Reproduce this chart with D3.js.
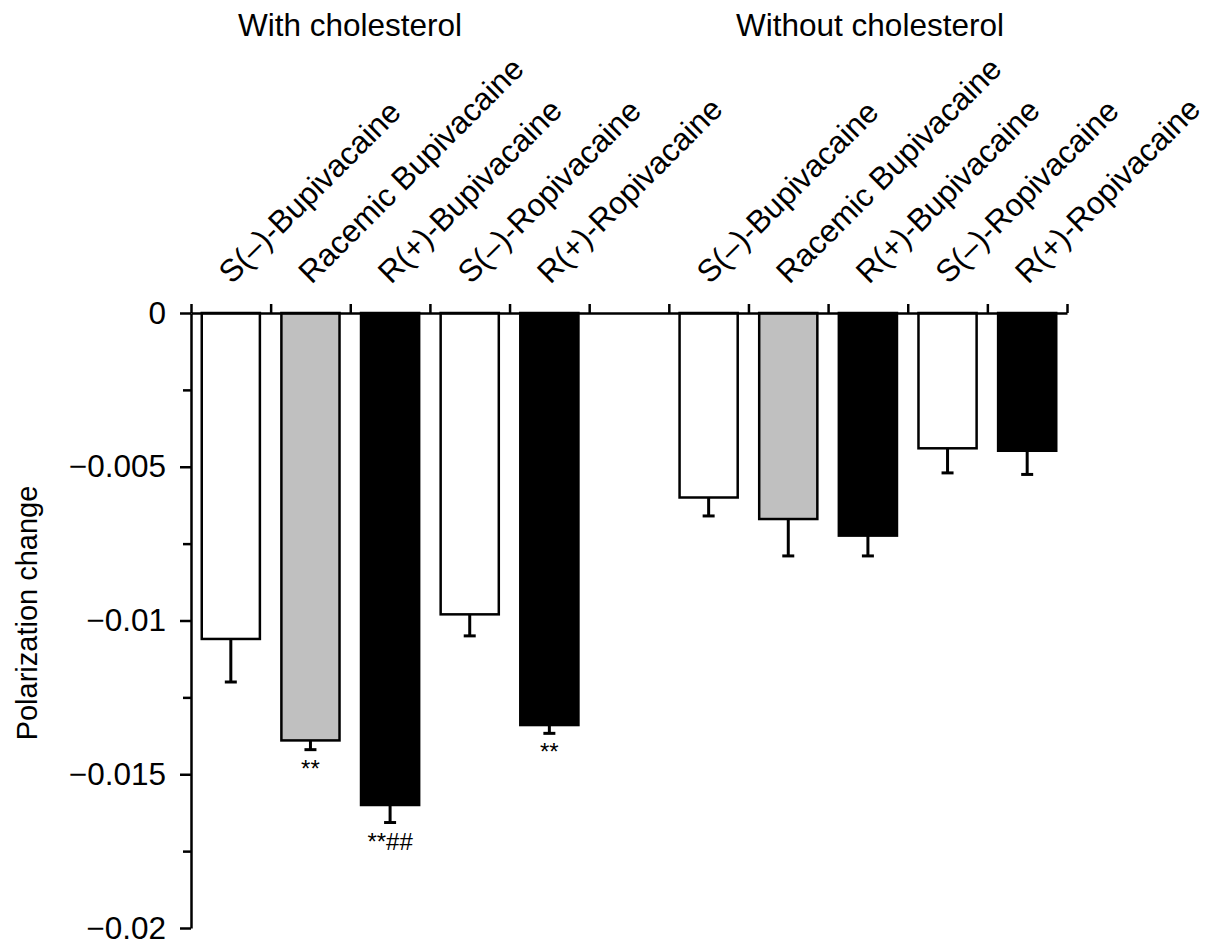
<!DOCTYPE html>
<html>
<head>
<meta charset="utf-8">
<script src="https://cdn.jsdelivr.net/npm/d3@7"></script>
<style>
  html, body { margin: 0; padding: 0; background: #fff; }
  svg text { font-family: "Liberation Sans", Arial, Helvetica, sans-serif; fill: #000; }
</style>
</head>
<body>
<svg id="chart" width="1216" height="939"></svg>
<script>
// ---- data ----
const groups = ["With cholesterol", "Without cholesterol"];
const categories = ["S(\u2013)-Bupivacaine", "Racemic Bupivacaine", "R(+)-Bupivacaine", "S(\u2013)-Ropivacaine", "R(+)-Ropivacaine"];
const withChol = [-0.0106, -0.0139, -0.0160, -0.0098, -0.0134];
const withCholErr = [0.0014, 0.0003, 0.00057, 0.0007, 0.00027];
const withoutChol = [-0.0060, -0.0067, -0.00724, -0.0044, -0.00448];
const withoutCholErr = [0.0006, 0.0012, 0.00066, 0.0008, 0.00077];
const withCholNotes = ["", "**", "**##", "", "**"];
const withoutCholNotes = ["", "", "", "", ""];
const yTickValues = [0, -0.005, -0.01, -0.015, -0.02];
const yTickLabels = ["0", "\u22120.005", "\u22120.01", "\u22120.015", "\u22120.02"];
const yMinorTicks = [-0.0025, -0.0075, -0.0125, -0.0175];
const yTitle = "Polarization change";

// ---- styles ----
const fills = ["#ffffff", "#c0c0c0", "#000000", "#ffffff", "#000000"];
const FONT = 31.5;

(function draw() {
// ---- build rows (11 slots: 5 bars, gap, 5 bars) ----
const rows = [];
categories.forEach((c, i) => rows.push({key: "w" + i, label: c, value: withChol[i], err: withCholErr[i], note: withCholNotes[i], fill: fills[i]}));
rows.push({key: "gap", label: "", value: null});
categories.forEach((c, i) => rows.push({key: "o" + i, label: c, value: withoutChol[i], err: withoutCholErr[i], note: withoutCholNotes[i], fill: fills[i]}));

const svg = d3.select("#chart");
const mLeft = 191, mRight = 1067, mTop = 313, mBottom = 928;

const x = d3.scaleBand().domain(rows.map(r => r.key)).range([mLeft, mRight]).paddingInner(0.27).paddingOuter(0.135);
const xEdge = d3.scaleLinear().domain([0, rows.length]).range([mLeft, mRight]);
const y = d3.scaleLinear().domain([-0.02, 0]).range([mBottom, mTop]);

const bars = rows.filter(r => r.value !== null);

// bars
svg.append("g").selectAll("rect").data(bars).join("rect")
  .attr("x", d => x(d.key))
  .attr("y", y(0))
  .attr("width", x.bandwidth())
  .attr("height", d => y(d.value) - y(0))
  .attr("fill", d => d.fill)
  .attr("stroke", "#000")
  .attr("stroke-width", 2.5);

// error bars (downward only)
const eg = svg.append("g").attr("stroke", "#000").attr("stroke-width", 3);
eg.selectAll("line.stem").data(bars).join("line").attr("class", "stem")
  .attr("x1", d => x(d.key) + x.bandwidth() / 2)
  .attr("x2", d => x(d.key) + x.bandwidth() / 2)
  .attr("y1", d => y(d.value))
  .attr("y2", d => y(d.value - d.err));
eg.selectAll("line.cap").data(bars).join("line").attr("class", "cap")
  .attr("x1", d => x(d.key) + x.bandwidth() / 2 - 6)
  .attr("x2", d => x(d.key) + x.bandwidth() / 2 + 6)
  .attr("y1", d => y(d.value - d.err))
  .attr("y2", d => y(d.value - d.err));

// significance notes
svg.append("g").selectAll("text").data(bars.filter(d => d.note)).join("text")
  .attr("x", d => x(d.key) + x.bandwidth() / 2)
  .attr("y", d => y(d.value - d.err) + 27)
  .attr("text-anchor", "middle")
  .attr("font-size", 24)
  .text(d => d.note);

// y axis
const yAxis = svg.append("g").attr("transform", `translate(${mLeft},0)`)
  .call(d3.axisLeft(y).tickValues(yTickValues).tickFormat((d, i) => yTickLabels[i]).tickSize(11).tickSizeOuter(0).tickPadding(14));
yAxis.select(".domain").attr("stroke-width", 2.5);
yAxis.selectAll(".tick line").attr("stroke-width", 2.5);
yAxis.selectAll("text").attr("font-size", FONT).attr("font-family", "Liberation Sans, Arial, sans-serif");
const yMinor = svg.append("g").attr("transform", `translate(${mLeft},0)`)
  .call(d3.axisLeft(y).tickValues(yMinorTicks).tickFormat("").tickSize(8).tickSizeOuter(0));
yMinor.select(".domain").remove();
yMinor.selectAll(".tick line").attr("stroke-width", 2.5);

// x axis at zero line with boundary ticks
const xAxis = svg.append("g").attr("transform", `translate(0,${y(0)})`)
  .call(d3.axisTop(xEdge).tickValues(d3.range(rows.length + 1)).tickFormat("").tickSize(9).tickSizeOuter(0));
xAxis.select(".domain").attr("stroke-width", 2.5);
xAxis.selectAll(".tick line").attr("stroke-width", 2.5);

// rotated category labels
svg.append("g").selectAll("text").data(bars).join("text")
  .attr("transform", d => `translate(${x(d.key) + x.bandwidth() / 2 + 1},285) rotate(-45)`)
  .attr("font-size", FONT)
  .text(d => d.label);

// group titles
const groupCenters = [350, 870];
svg.append("g").selectAll("text").data(groups).join("text")
  .attr("x", (d, i) => groupCenters[i])
  .attr("y", 36)
  .attr("text-anchor", "middle")
  .attr("font-size", FONT)
  .text(d => d);

// y title
svg.append("text")
  .attr("transform", `translate(37,613) rotate(-90)`)
  .attr("text-anchor", "middle")
  .attr("font-size", 29)
  .text(yTitle);
})();
</script>
</body>
</html>
